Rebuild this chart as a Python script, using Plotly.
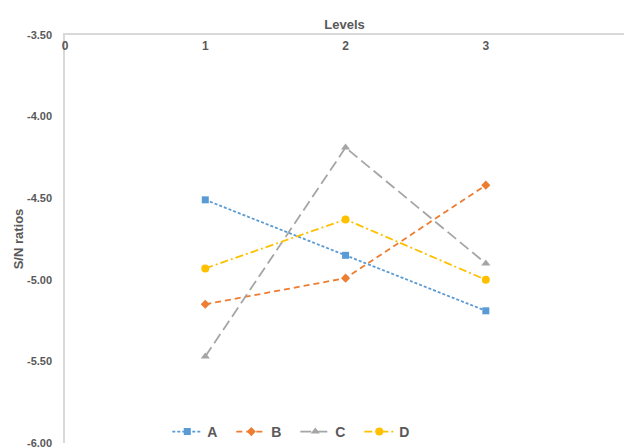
import plotly.graph_objects as go

levels = [1, 2, 3]
series_names = ["A", "B", "C", "D"]
A = [-4.51, -4.85, -5.19]
B = [-5.15, -4.99, -4.42]
C = [-5.47, -4.19, -4.90]
D = [-4.93, -4.63, -5.00]
y_ticks = [-3.5, -4.0, -4.5, -5.0, -5.5, -6.0]
y_tick_text = ["-3.50", "-4.00", "-4.50", "-5.00", "-5.50", "-6.00"]
x_ticks = [0, 1, 2, 3, 4]

styles = [
    ("#5B9BD5", "3px,2px", "square", 7),
    ("#ED7D31", "6px,4px", "diamond", 7),
    ("#A5A5A5", "11px,5px", "triangle-up", 8),
    ("#FFC000", "8px,3px,2px,3px", "circle", 8),
]

fig = go.Figure()
for name, vals, (col, dash, sym, ms) in zip(series_names, [A, B, C, D], styles):
    fig.add_trace(go.Scatter(
        x=levels, y=vals, name=name, mode="lines+markers",
        line=dict(color=col, width=1.8, dash=dash),
        marker=dict(color=col, symbol=sym, size=ms),
    ))

font_col = "#595959"
fig.update_layout(
    width=624, height=448,
    margin=dict(l=65, r=0, t=35, b=5),
    paper_bgcolor="white", plot_bgcolor="white",
    font=dict(family="Liberation Sans, Arial, sans-serif", color=font_col, size=11),
    xaxis=dict(
        range=[0, 3.985], side="top", tickvals=x_ticks,
        ticklabelposition="inside", ticklabeloverflow="allow", ticklabelstandoff=6,
        showgrid=False, zeroline=False, automargin=False,
        showline=True, linecolor="#D9D9D9", linewidth=1.5, ticks="",
        tickfont=dict(size=12, color=font_col, weight="bold"),
        title=dict(text="<b>Levels</b>", font=dict(size=13, color=font_col), standoff=6),
    ),
    yaxis=dict(
        range=[-6.0, -3.5], tickvals=y_ticks, ticktext=y_tick_text,
        ticklabeloverflow="allow", ticklabelstandoff=9,
        showgrid=False, zeroline=False, showline=True, automargin=False,
        linecolor="#D9D9D9", linewidth=1.5, ticks="", ticklen=0,
        tickfont=dict(size=11, color=font_col, weight="bold"),
        title=dict(text="<b>S/N ratios</b>", font=dict(size=13, color=font_col), standoff=0),
    ),
    legend=dict(
        orientation="h", x=0.183, xanchor="left", y=0.027, yanchor="middle",
        font=dict(size=14, color=font_col, weight="bold"),
        itemwidth=30, entrywidth=19, entrywidthmode="pixels",
        tracegroupgap=0, bgcolor="rgba(0,0,0,0)",
    ),
)

fig.write_html("out.html", config={"displayModeBar": False},
               post_script="document.body.style.margin='0';")
